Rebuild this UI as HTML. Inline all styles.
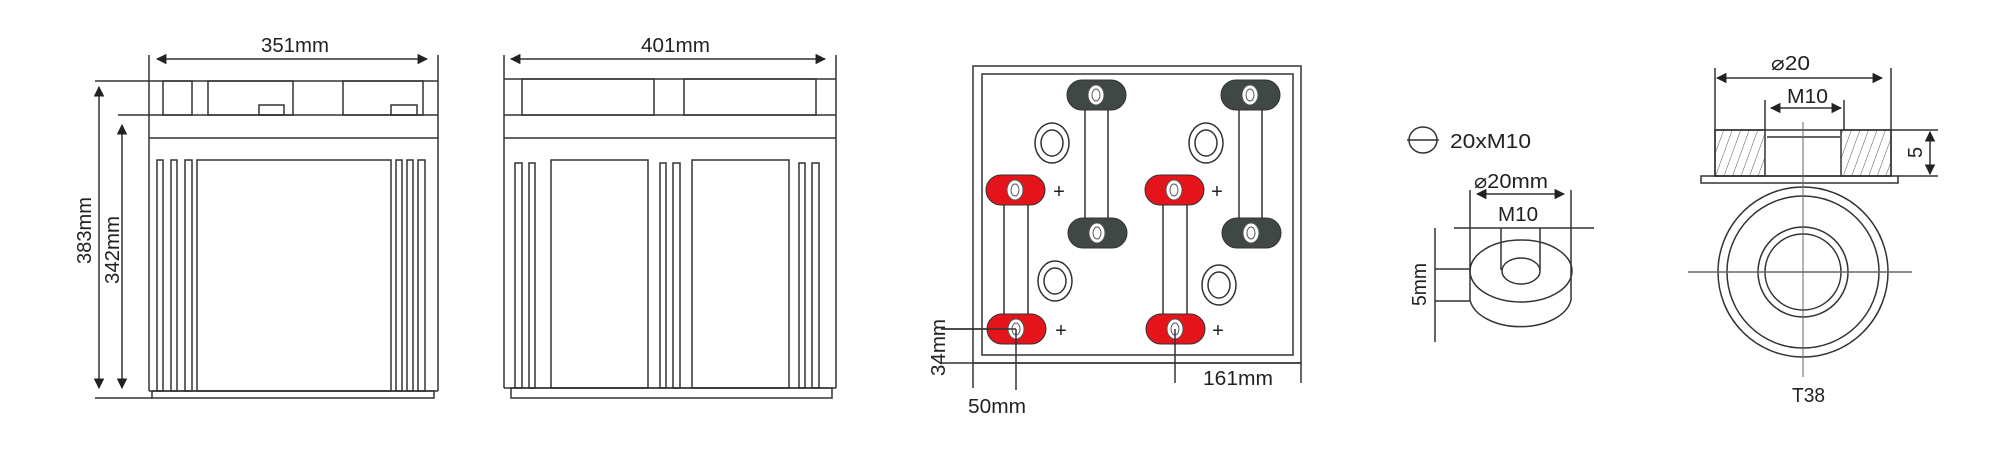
<!DOCTYPE html>
<html><head><meta charset="utf-8"><style>
html,body{margin:0;padding:0;background:#fff;}
svg{display:block;}
text{font-family:"Liberation Sans",sans-serif;font-size:20px;fill:#222;}
</style></head><body>
<svg width="2000" height="458" viewBox="0 0 2000 458" xmlns="http://www.w3.org/2000/svg">
<defs>
<marker id="a" viewBox="0 0 10 10" refX="9" refY="5" markerWidth="7" markerHeight="7" orient="auto-start-reverse"><path d="M0,0 L10,5 L0,10 z" fill="#222"/></marker>
<pattern id="h" width="8" height="8" patternUnits="userSpaceOnUse" patternTransform="rotate(20)"><line x1="0" y1="0" x2="0" y2="8" stroke="#555" stroke-width="1"/></pattern>
</defs>
<g fill="none" stroke="#333" stroke-width="1.5">
<line x1="149" y1="55" x2="149" y2="391"/><line x1="438" y1="55" x2="438" y2="391"/>
<line x1="157" y1="59" x2="427" y2="59" marker-start="url(#a)" marker-end="url(#a)"/>
<line x1="95" y1="81" x2="438" y2="81"/>
<rect x="163" y="81" width="29" height="34"/><rect x="208" y="81" width="85" height="34"/><rect x="343" y="81" width="80" height="34"/>
<rect x="259" y="105" width="25" height="10"/><rect x="391" y="105" width="26" height="10"/>
<line x1="118" y1="115" x2="438" y2="115"/><line x1="149" y1="138" x2="438" y2="138"/>
<line x1="149" y1="391" x2="438" y2="391"/>
<rect x="152" y="391" width="282" height="7"/><line x1="95" y1="398" x2="152" y2="398"/>
<rect x="157" y="160" width="6" height="231"/><rect x="171" y="160" width="6" height="231"/><rect x="185" y="160" width="7" height="231"/>
<rect x="197" y="160" width="194" height="231"/>
<rect x="396" y="160" width="6" height="231"/><rect x="407" y="160" width="6" height="231"/><rect x="418" y="160" width="7" height="231"/>
<line x1="99" y1="87" x2="99" y2="388" marker-start="url(#a)" marker-end="url(#a)"/>
<line x1="122" y1="125" x2="122" y2="388" marker-start="url(#a)" marker-end="url(#a)"/>
<line x1="504" y1="55" x2="504" y2="388"/><line x1="836" y1="55" x2="836" y2="388"/>
<line x1="511" y1="59" x2="825" y2="59" marker-start="url(#a)" marker-end="url(#a)"/>
<line x1="504" y1="79" x2="836" y2="79"/>
<rect x="522" y="79" width="132" height="36"/><rect x="684" y="79" width="132" height="36"/>
<line x1="504" y1="115" x2="836" y2="115"/><line x1="504" y1="138" x2="836" y2="138"/>
<line x1="504" y1="388" x2="836" y2="388"/>
<rect x="511" y="388" width="321" height="10"/>
<rect x="515" y="163" width="7" height="225"/><rect x="529" y="163" width="6" height="225"/>
<rect x="551" y="160" width="97" height="228"/>
<rect x="660" y="163" width="6" height="225"/><rect x="673" y="163" width="7" height="225"/>
<rect x="692" y="160" width="97" height="228"/>
<rect x="799" y="163" width="6" height="225"/><rect x="812" y="163" width="7" height="225"/>
<rect x="973" y="66" width="328" height="297"/>
<rect x="982" y="74" width="311" height="281"/>
<rect x="1085" y="105" width="23" height="120"/><rect x="1239" y="105" width="23" height="120"/>
<rect x="1004" y="195" width="24" height="130"/><rect x="1163" y="195" width="24" height="130"/>
<ellipse cx="1052" cy="143" rx="17" ry="20"/><ellipse cx="1052" cy="143" rx="11" ry="13"/>
<ellipse cx="1206" cy="143" rx="17" ry="20"/><ellipse cx="1206" cy="143" rx="11" ry="13"/>
<ellipse cx="1055" cy="281" rx="17" ry="20"/><ellipse cx="1055" cy="281" rx="11" ry="13"/>
<ellipse cx="1219" cy="285" rx="17" ry="20"/><ellipse cx="1219" cy="285" rx="11" ry="13"/>
<line x1="941" y1="329" x2="1016" y2="329"/><line x1="941" y1="363" x2="1301" y2="363"/>
<line x1="973" y1="363" x2="973" y2="388"/><line x1="1016" y1="329" x2="1016" y2="390"/>
<line x1="1175" y1="329" x2="1175" y2="383"/><line x1="1301" y1="363" x2="1301" y2="383"/>
<ellipse cx="1423" cy="140" rx="14" ry="13"/><line x1="1407" y1="140" x2="1439" y2="140"/>
<line x1="1470" y1="190" x2="1470" y2="300"/><line x1="1571" y1="190" x2="1571" y2="300"/>
<line x1="1477" y1="194" x2="1564" y2="194" marker-start="url(#a)" marker-end="url(#a)"/>
<line x1="1454" y1="228" x2="1594" y2="228"/>
<line x1="1501" y1="228" x2="1501" y2="270"/><line x1="1540" y1="228" x2="1540" y2="270"/>
<ellipse cx="1521" cy="271" rx="51" ry="31"/>
<path d="M1470,300 A51,31 0 0 0 1571,300"/>
<ellipse cx="1521" cy="271" rx="19" ry="13"/>
<line x1="1435" y1="228" x2="1435" y2="342"/>
<line x1="1435" y1="269" x2="1470" y2="269"/><line x1="1435" y1="301" x2="1470" y2="301"/>
<line x1="1715" y1="68" x2="1715" y2="130"/><line x1="1891" y1="68" x2="1891" y2="130"/>
<line x1="1717" y1="78" x2="1882" y2="78" marker-start="url(#a)" marker-end="url(#a)"/>
<line x1="1765" y1="100" x2="1765" y2="130"/><line x1="1844" y1="100" x2="1844" y2="130"/>
<line x1="1771" y1="108" x2="1841" y2="108" marker-start="url(#a)" marker-end="url(#a)"/>
<rect x="1715" y="130" width="50" height="46" fill="url(#h)"/>
<rect x="1841" y="130" width="50" height="46" fill="url(#h)"/>
<rect x="1715" y="130" width="176" height="46"/>
<line x1="1767" y1="137" x2="1840" y2="137"/>
<rect x="1701" y="176" width="197" height="7"/>
<line x1="1891" y1="130" x2="1938" y2="130"/><line x1="1898" y1="176" x2="1938" y2="176"/>
<line x1="1930" y1="132" x2="1930" y2="174" marker-start="url(#a)" marker-end="url(#a)"/>
<circle cx="1803" cy="272" r="85"/><circle cx="1803" cy="272" r="76"/>
<circle cx="1803" cy="272" r="45"/><circle cx="1803" cy="272" r="38"/>
<line x1="1688" y1="272" x2="1912" y2="272" stroke="#666"/>
<line x1="1803" y1="122" x2="1803" y2="377" stroke="#666" stroke-width="1"/>
</g>
<g stroke="#333" stroke-width="1">
<rect x="1067" y="80" width="59" height="30" rx="15" fill="#3f4845"/>
<rect x="1221" y="80" width="59" height="30" rx="15" fill="#3f4845"/>
<rect x="1068" y="218" width="59" height="30" rx="15" fill="#3f4845"/>
<rect x="1222" y="218" width="59" height="30" rx="15" fill="#3f4845"/>
<rect x="986" y="175" width="59" height="30" rx="15" fill="#e5141b"/>
<rect x="1145" y="175" width="59" height="30" rx="15" fill="#e5141b"/>
<rect x="987" y="314" width="59" height="30" rx="15" fill="#e5141b"/>
<rect x="1146" y="314" width="59" height="30" rx="15" fill="#e5141b"/>
<g fill="#fff" stroke="#555">
<ellipse cx="1096" cy="95" rx="8" ry="10"/><ellipse cx="1250" cy="95" rx="8" ry="10"/>
<ellipse cx="1097" cy="233" rx="8" ry="10"/><ellipse cx="1251" cy="233" rx="8" ry="10"/>
<ellipse cx="1015" cy="190" rx="8" ry="10"/><ellipse cx="1174" cy="190" rx="8" ry="10"/>
<ellipse cx="1016" cy="329" rx="8" ry="10"/><ellipse cx="1175" cy="329" rx="8" ry="10"/>
<ellipse cx="1096" cy="95" rx="4" ry="6"/><ellipse cx="1250" cy="95" rx="4" ry="6"/>
<ellipse cx="1097" cy="233" rx="4" ry="6"/><ellipse cx="1251" cy="233" rx="4" ry="6"/>
<ellipse cx="1015" cy="190" rx="4" ry="6"/><ellipse cx="1174" cy="190" rx="4" ry="6"/>
<ellipse cx="1016" cy="329" rx="4" ry="6"/><ellipse cx="1175" cy="329" rx="4" ry="6"/>
</g>
</g>
<g stroke="#333" stroke-width="1.5">
<line x1="941" y1="329" x2="1016" y2="329"/>
<line x1="1016" y1="329" x2="1016" y2="345"/><line x1="1175" y1="329" x2="1175" y2="345"/>
</g>
<g style="font-size:22px">
<text x="1059" y="198" text-anchor="middle">+</text><text x="1217" y="198" text-anchor="middle">+</text>
<text x="1061" y="337" text-anchor="middle">+</text><text x="1218" y="337" text-anchor="middle">+</text>
</g>
<text x="261" y="52" textLength="68" lengthAdjust="spacingAndGlyphs">351mm</text>
<text x="641" y="52" textLength="69" lengthAdjust="spacingAndGlyphs">401mm</text>
<text transform="translate(91,264) rotate(-90)" textLength="67" lengthAdjust="spacingAndGlyphs">383mm</text>
<text transform="translate(119,284) rotate(-90)" textLength="68" lengthAdjust="spacingAndGlyphs">342mm</text>
<text transform="translate(945,376) rotate(-90)" textLength="57" lengthAdjust="spacingAndGlyphs">34mm</text>
<text x="968" y="413" textLength="58" lengthAdjust="spacingAndGlyphs">50mm</text>
<text x="1203" y="385" textLength="70" lengthAdjust="spacingAndGlyphs">161mm</text>
<text x="1450" y="148" textLength="81" lengthAdjust="spacingAndGlyphs">20xM10</text>
<text x="1474" y="188" textLength="74" lengthAdjust="spacingAndGlyphs">⌀20mm</text>
<text x="1498" y="221" textLength="40" lengthAdjust="spacingAndGlyphs">M10</text>
<text transform="translate(1426,306) rotate(-90)" textLength="43" lengthAdjust="spacingAndGlyphs">5mm</text>
<text x="1771" y="70" textLength="39" lengthAdjust="spacingAndGlyphs">⌀20</text>
<text x="1787" y="103" textLength="41" lengthAdjust="spacingAndGlyphs">M10</text>
<text transform="translate(1922,158) rotate(-90)">5</text>
<text x="1792" y="402" textLength="33" lengthAdjust="spacingAndGlyphs">T38</text>
</svg>
</body></html>
